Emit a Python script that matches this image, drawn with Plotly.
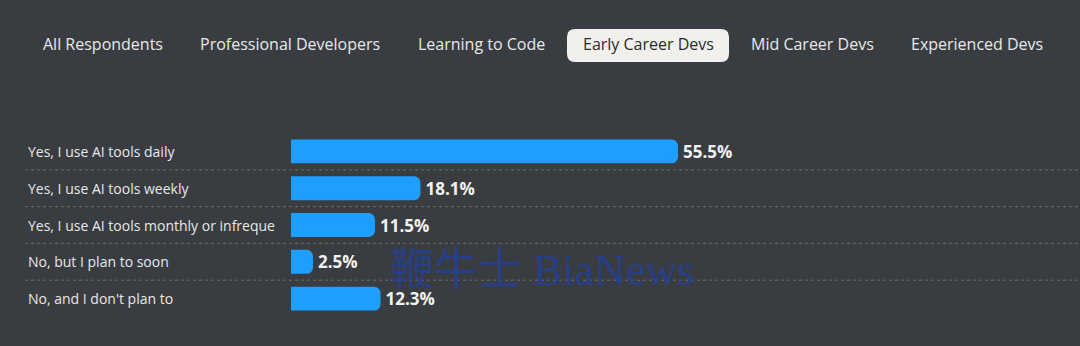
import plotly.graph_objects as go

# ---- data ----
tabs = ["All Respondents", "Professional Developers", "Learning to Code",
        "Early Career Devs", "Mid Career Devs", "Experienced Devs"]
selected_tab = "Early Career Devs"
categories = ["Yes, I use AI tools daily",
              "Yes, I use AI tools weekly",
              "Yes, I use AI tools monthly or infreque",
              "No, but I plan to soon",
              "No, and I don't plan to"]
values = [55.5, 18.1, 11.5, 2.5, 12.3]

W, H = 1080, 346
BG = "#393c41"
BAR = "#1e9fff"
TXT = "#e8e8e8"

n = len(categories)
ypos = list(range(n))

# layout geometry (pixels)
bar_start_px = 291
px_per_unit = 6.887
edge = 4.8                     # stroke width that pads bar ends
top = 151 - 18.5
row_h = 37
plot_h = row_h * n
bottom = H - top - plot_h

x_min = -(edge / 2) / px_per_unit
x_max = x_min + (W - bar_start_px) / px_per_unit


def py(ypx):
    """figure pixel y -> paper y"""
    return (H - bottom - ypx) / plot_h


fig = go.Figure()
fig.add_trace(go.Bar(
    x=values, y=ypos, orientation="h",
    marker=dict(color=BAR, line=dict(color=BAR, width=edge)),
    width=(24 - edge) / row_h,
    text=[f"{v:.1f}%" for v in values],
    texttemplate=" <b>%{text}</b>",
    textposition="outside",
    constraintext="none",
    textfont=dict(family="Open Sans, sans-serif", size=17, color="#f2f2f2"),
    cliponaxis=False,
    hoverinfo="skip",
))

annotations = []
for i, c in enumerate(categories):
    annotations.append(dict(
        x=26 / W, xref="paper", y=i, yref="y", text=c, showarrow=False,
        xanchor="left", yanchor="middle",
        font=dict(family="Open Sans, sans-serif", size=14, color=TXT)))

shapes = []
for i in range(n - 1):
    shapes.append(dict(type="line", xref="paper", yref="y",
                       x0=25 / W, x1=1, y0=i + 0.5, y1=i + 0.5,
                       line=dict(color="#6a6d72", width=1, dash="dot")))

# tabs
tab_centers = [102.5, 290, 481, 648, 812, 976.5]
tab_y = 43.5
for t, cx in zip(tabs, tab_centers):
    sel = (t == selected_tab)
    if sel:
        x0, x1, y0, y1, r = 567, 729, 28, 61, 8
        fx = lambda v: v / W
        fy = py
        path = (f"M {fx(x0+r)},{fy(y0)} L {fx(x1-r)},{fy(y0)} Q {fx(x1)},{fy(y0)} {fx(x1)},{fy(y0+r)} "
                f"L {fx(x1)},{fy(y1-r)} Q {fx(x1)},{fy(y1)} {fx(x1-r)},{fy(y1)} "
                f"L {fx(x0+r)},{fy(y1)} Q {fx(x0)},{fy(y1)} {fx(x0)},{fy(y1-r)} "
                f"L {fx(x0)},{fy(y0+r)} Q {fx(x0)},{fy(y0)} {fx(x0+r)},{fy(y0)} Z")
        shapes.append(dict(type="path", xref="paper", yref="paper", path=path,
                           fillcolor="#f1f0ec", line=dict(width=0), layer="below"))
    annotations.append(dict(
        x=cx / W, xref="paper", y=py(tab_y), yref="paper", text=t,
        showarrow=False, xanchor="center", yanchor="middle",
        font=dict(family="Open Sans, sans-serif", size=16,
                  color="#2b2b2b" if sel else TXT)))

# watermark
annotations.append(dict(
    x=542 / W, xref="paper", y=py(271), yref="paper",
    text="鞭牛士 BiaNews", showarrow=False, xanchor="center", yanchor="middle",
    opacity=0.75,
    font=dict(family="Liberation Serif, Noto Sans CJK SC, serif", size=44, color="#23409e")))

fig.update_layout(
    width=W, height=H,
    margin=dict(l=0, r=0, t=top, b=bottom, pad=0),
    paper_bgcolor=BG, plot_bgcolor=BG,
    showlegend=False,
    barcornerradius=4,
    xaxis=dict(domain=[bar_start_px / W, 1], range=[x_min, x_max],
               visible=False, fixedrange=True),
    yaxis=dict(range=[n - 0.5, -0.5], visible=False, fixedrange=True),
    annotations=annotations, shapes=shapes,
)

fig.write_html("out.html", config={"displayModeBar": False})
